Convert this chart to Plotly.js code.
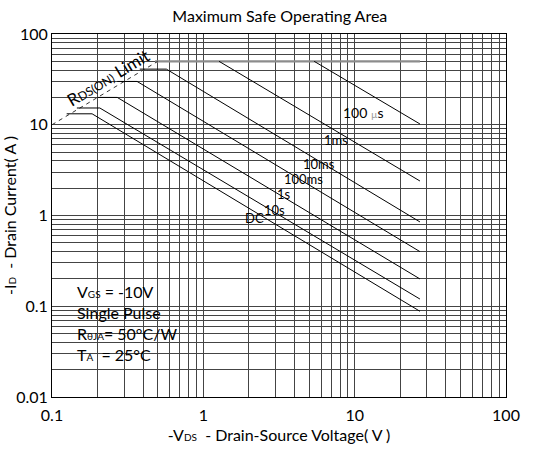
<!DOCTYPE html>
<html>
<head>
<meta charset="utf-8">
<script src="https://cdn.plot.ly/plotly-3.0.1.min.js"></script>
<style>html,body{margin:0;padding:0;background:#fff}#chart{width:553px;height:450px}</style>
</head>
<body>
<div id="chart"></div>
<script>
// ---- data ----
const curve100us_V = [5.4, 27];          const curve100us_I = [50, 10.2];
const curve1ms_V   = [1.27, 27];         const curve1ms_I   = [50, 2.4];
const curve10ms_V  = [0.38, 0.57, 27];   const curve10ms_I  = [41, 41, 0.85];
const curve100ms_V = [0.27, 0.365, 27];  const curve100ms_I = [30, 30, 0.4];
const curve1s_V    = [0.2, 0.27, 27];    const curve1s_I    = [20, 20, 0.2];
const curve10s_V   = [0.146, 0.207, 27]; const curve10s_I   = [15.3, 15.3, 0.12];
const curveDC_V    = [0.125, 0.184, 27]; const curveDC_I    = [13.2, 13.2, 0.088];
const packageLimit_V = [0.48, 27];       const packageLimit_I = [50, 50];
const rdsLimit_V = [0.1, 0.5];           const rdsLimit_I = [10, 50];

const xDecades = [0.1, 1, 10, 100];
const xDecadeLabels = ['0.1', '1', '10', '100'];
const yDecades = [0.01, 0.1, 1, 10, 100];
const yDecadeLabels = ['0.01', '0.1', '1', '10', '100'];
const gridMultipliers = [1, 2, 3, 4, 5, 6, 7, 8, 9];

function buildTicks(decades, labels) {
  const vals = [], text = [];
  decades.forEach((d, i) => {
    if (i === decades.length - 1) { vals.push(d); text.push(labels[i]); return; }
    gridMultipliers.forEach((m, j) => {
      vals.push(+(d * m).toPrecision(6));
      text.push(j === 0 ? labels[i] : '');
    });
  });
  return {vals, text};
}
const xt = buildTicks(xDecades, xDecadeLabels);
const yt = buildTicks(yDecades, yDecadeLabels);

const FONT = 'Lato, "Open Sans", sans-serif';
const line = (x, y, extra) => Object.assign({
  type: 'scatter', mode: 'lines', x, y, hoverinfo: 'skip',
  line: {color: '#000', width: 1}
}, extra || {});

const traces = [
  line(packageLimit_V, packageLimit_I, {line: {color: '#8c8c8c', width: 2.2}}),
  line(rdsLimit_V, rdsLimit_I, {line: {color: '#333', width: 1, dash: '4px,4px'}}),
  line(curve100us_V, curve100us_I),
  line(curve1ms_V, curve1ms_I),
  line(curve10ms_V, curve10ms_I),
  line(curve100ms_V, curve100ms_I),
  line(curve1s_V, curve1s_I),
  line(curve10s_V, curve10s_I),
  line(curveDC_V, curveDC_I)
];

const ann = (text, x, y, extra) => Object.assign({
  text, x, y, xref: 'paper', yref: 'paper', showarrow: false,
  xanchor: 'center', yanchor: 'middle',
  font: {family: FONT, size: 13, color: '#000'}
}, extra || {});

const small = (s, px) => '<span style="font-size:' + (px || 10) + 'px">' + s + '</span>';
const F16 = {family: FONT, size: 16, color: '#000'};
const annotations = [
  ann('100 <span style="font-size:10px;color:#999">µ</span>s', 0.687, 0.785, {font: {family: FONT, size: 14, color: '#000'}}),
  ann('1ms', 0.626, 0.708),
  ann('10ms', 0.588, 0.642),
  ann('100ms', 0.553, 0.6006),
  ann('1s', 0.512, 0.558),
  ann('10s', 0.489, 0.5165),
  ann('DC', 0.445, 0.493),
  ann('R' + small('DS(ON)', 12) + ' Limit', 0.124, 0.879, {textangle: -31, font: {family: FONT, size: 17, color: '#000'}}),
  ann('V' + small('GS') + ' = -10V', 0.051, 0.292, {xanchor: 'left', font: F16}),
  ann('Single Pulse', 0.051, 0.234, {xanchor: 'left', font: F16}),
  ann('R' + small('θJA') + '= 50°C/W', 0.051, 0.176, {xanchor: 'left', font: F16}),
  ann('T' + small('A') + '  = 25°C', 0.051, 0.116, {xanchor: 'left', font: F16})
];

const axisCommon = {
  type: 'log', tickmode: 'array', showgrid: true, gridcolor: '#444', gridwidth: 1,
  zeroline: false, showline: true, linecolor: '#000', linewidth: 1, mirror: true,
  ticks: '', tickfont: {family: FONT, size: 16, color: '#000'}, fixedrange: true
};

const layout = {
  width: 553, height: 450,
  margin: {l: 52, r: 47, t: 34, b: 53},
  paper_bgcolor: '#fff', plot_bgcolor: '#fff',
  showlegend: false,
  font: {family: FONT, color: '#000'},
  title: {text: 'Maximum Safe Operating Area', x: 0.506, xanchor: 'center', y: 0.964, yanchor: 'middle',
          font: {family: FONT, size: 16, color: '#000'}},
  xaxis: Object.assign({}, axisCommon, {
    range: [-1, 2], tickvals: xt.vals, ticktext: xt.text, ticklabelstandoff: 4,
    title: {text: '-V' + small('DS') + '  - Drain-Source Voltage( V )', standoff: 6, font: F16}
  }),
  yaxis: Object.assign({}, axisCommon, {
    range: [-2, 2], tickvals: yt.vals, ticktext: yt.text,
    title: {text: '-I' + small('D') + '  - Drain Current( A )', standoff: 2, font: F16}
  }),
  annotations
};

Plotly.newPlot('chart', traces, layout, {displayModeBar: false, staticPlot: true});
</script>
</body>
</html>
